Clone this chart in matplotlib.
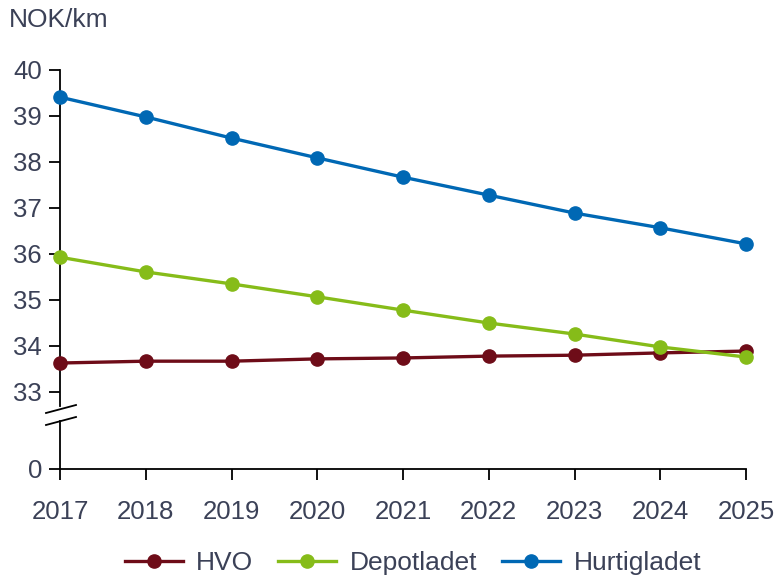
import matplotlib
matplotlib.use("Agg")
import matplotlib.pyplot as plt

plt.rcParams['font.family'] = ['Liberation Sans', 'DejaVu Sans']

years = [2017, 2018, 2019, 2020, 2021, 2022, 2023, 2024, 2025]
hvo = [33.63, 33.67, 33.67, 33.72, 33.74, 33.78, 33.80, 33.85, 33.89]
depotladet = [35.93, 35.61, 35.35, 35.07, 34.78, 34.50, 34.26, 33.98, 33.76]
hurtigladet = [39.41, 38.98, 38.52, 38.09, 37.67, 37.28, 36.89, 36.57, 36.22]
series_names = ["HVO", "Depotladet", "Hurtigladet"]
colors = ["#6e0c18", "#86bc19", "#0068b4"]
y_ticks = [33, 34, 35, 36, 37, 38, 39, 40]
zero_pos = 33 - 77 / 46  # position of the "0" tick on the broken axis

text_color = "#3b4157"

fig = plt.figure(figsize=(7.8, 5.76), dpi=100)
ax = fig.add_axes([60 / 780, (576 - 469) / 576, (746 - 60) / 780, (469 - 70) / 576])

for vals, name, c in zip([hvo, depotladet, hurtigladet], series_names, colors):
    ax.plot(years, vals, color=c, lw=2.4, marker='o', markersize=9.5, label=name,
            clip_on=False, zorder=3)

ax.set_xlim(2017, 2025)
ax.set_ylim(zero_pos, 40)
ax.set_xticks(years)
ax.set_xticklabels([str(y) for y in years])
ax.set_yticks([zero_pos] + y_ticks)
ax.set_yticklabels(["0"] + [str(t) for t in y_ticks])

for s in ['top', 'right']:
    ax.spines[s].set_visible(False)
for s in ['left', 'bottom']:
    ax.spines[s].set_color('black')
    ax.spines[s].set_linewidth(1.3)
ax.tick_params(axis='both', direction='out', length=8, width=1.3, color='black',
               labelsize=18.5, labelcolor=text_color)
ax.tick_params(axis='x', pad=14)
ax.tick_params(axis='y', pad=5)

def fy(py):
    return (576 - py) / 576
def fx(px):
    return px / 780

# axis break marks
fig.add_artist(plt.Line2D([fx(60), fx(60)], [fy(409), fy(418)], transform=fig.transFigure,
                          color='white', lw=3, zorder=5))
for off in (0, 12):
    fig.add_artist(plt.Line2D([fx(46), fx(76)], [fy(413 + off), fy(405 + off)],
                              transform=fig.transFigure, color='black', lw=1.3, zorder=6))

fig.text(9 / 780, fy(20), "NOK/km", fontsize=19, color=text_color, va='center', ha='left')

fig.legend(loc='center', bbox_to_anchor=(fx(413), fy(563)), ncol=3, frameon=False,
           fontsize=19, handlelength=2.2, columnspacing=0.95, handletextpad=0.5,
           labelcolor=text_color)

fig.savefig("out.png", dpi=100)
